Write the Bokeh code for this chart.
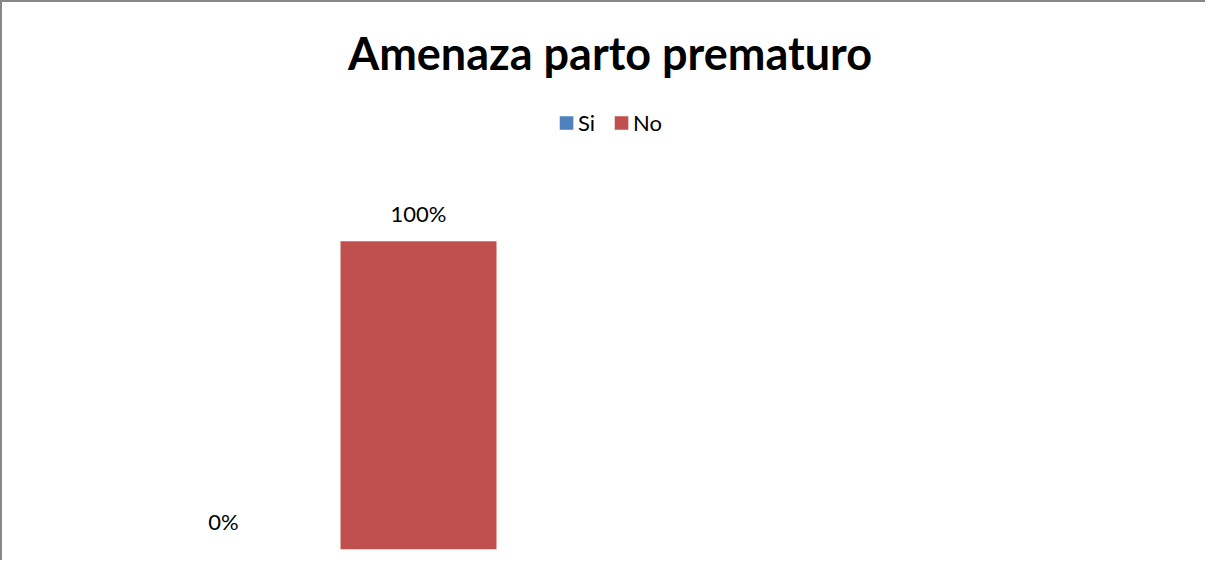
from bokeh.plotting import figure
from bokeh.models import ColumnDataSource, Range1d, LabelSet, Legend, LegendItem
from bokeh.core.properties import value
from bokeh.embed import file_html
from bokeh.resources import INLINE

# Data
series = ["Si", "No"]
values = [0.0, 1.0]
labels = ["0%", "100%"]
colors = ["#4F81BD", "#C0504D"]

FONT = "Lato"

src = ColumnDataSource(dict(
    x=list(range(len(series))),
    top=values,
    lab=labels,
    series=series,
    color=colors,
))

p = figure(width=1205, height=560, output_backend="svg", toolbar_location=None,
           x_range=Range1d(-1.082, 5.046), y_range=Range1d(-0.0432, 1.5153),
           min_border_left=10, min_border_right=0, min_border_bottom=0, min_border_top=80)
p.styles = {"border-top": "2px solid #878787", "border-left": "2px solid #878787"}
p.xaxis.visible = False
p.yaxis.visible = False
p.grid.visible = False
p.outline_line_color = None
p.background_fill_color = "white"
p.border_fill_color = "white"

p.title.text = "Amenaza parto prematuro"
p.title.text_font = FONT
p.title.text_font_size = "45px"
p.title.text_font_style = "bold"
p.title.text_color = "black"
p.title.align = "center"
p.title.vertical_align = "bottom"
p.title.standoff = 5

r = p.vbar(x="x", top="top", width=0.8, fill_color="color", line_color=None, source=src)

lbl = LabelSet(x="x", y="top", text="lab", source=src, y_offset=19,
               text_align="center", text_baseline="alphabetic",
               text_font=value(FONT), text_font_size=value("22px"), text_color="black")
p.add_layout(lbl)

items = [LegendItem(label=s, renderers=[r], index=i) for i, s in enumerate(series)]
legend = Legend(items=items, orientation="horizontal", location="top_center",
                glyph_width=17, glyph_height=17, label_standoff=4, spacing=14,
                padding=0, margin=27, border_line_color=None, background_fill_alpha=0,
                label_text_font=FONT, label_text_font_size="22px", label_text_color="black")
p.add_layout(legend)

open("out.html", "w").write(file_html(p, INLINE))
